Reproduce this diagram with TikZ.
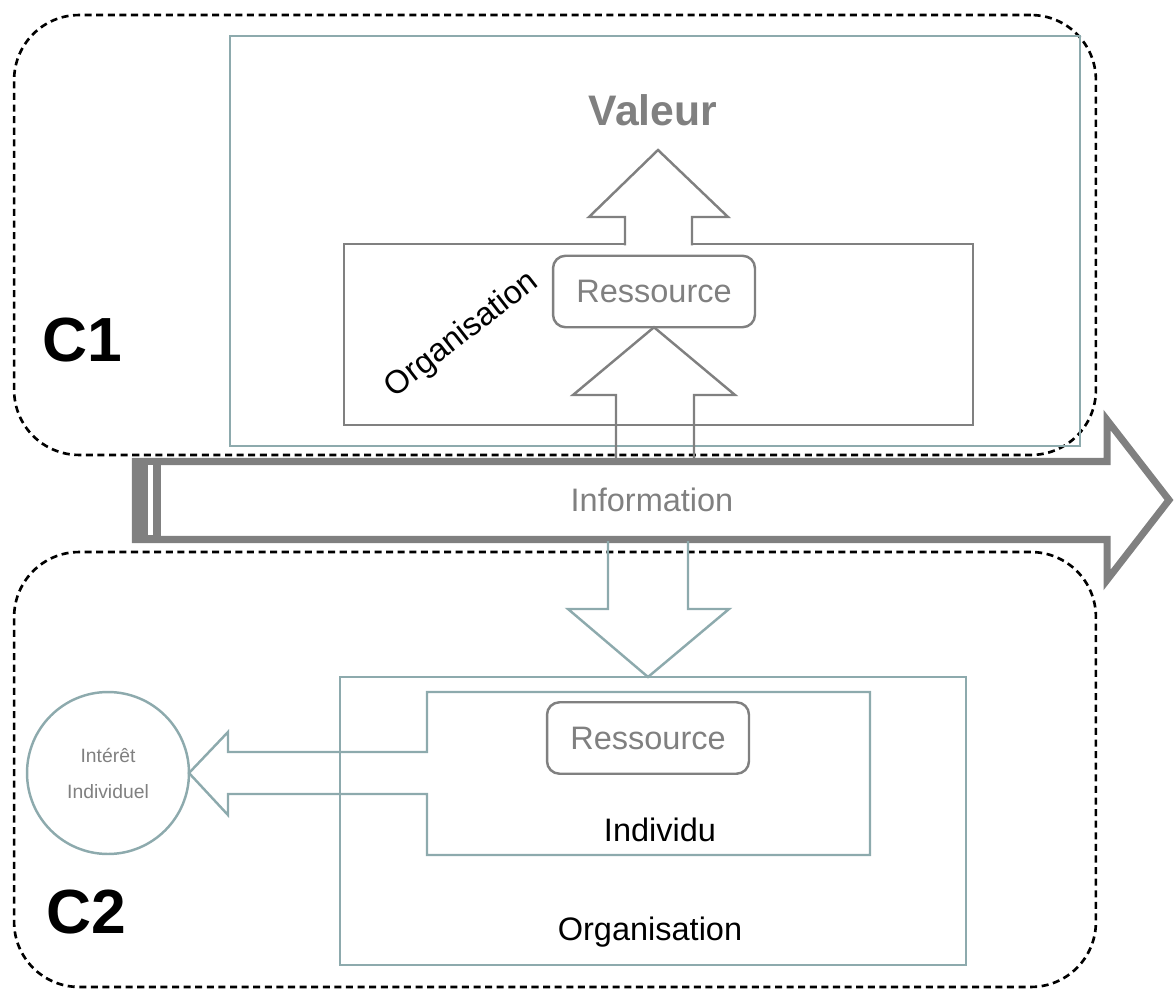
\documentclass[tikz,border=0pt]{standalone}
\usepackage{fontspec}
\setmainfont{Liberation Sans}
\usetikzlibrary{positioning}
\definecolor{tealgray}{HTML}{8DAAAD}
\definecolor{ash}{HTML}{808080}
\begin{document}
\begin{tikzpicture}[x=0.02cm,y=-0.02cm,
  every node/.style={font=\fontsize{18.5}{22}\selectfont,inner sep=0pt,outer sep=0pt},
  zone/.style={draw=black,line width=1.5pt,dash pattern=on 4pt off 2.6pt,rounded corners=1.3cm},
  tealline/.style={draw=tealgray,line width=1.4pt},
  grayline/.style={draw=ash,line width=1.4pt},
  resbox/.style={grayline,rounded corners=0.25cm,text=ash,minimum width=4.04cm,minimum height=1.43cm},
  bigtag/.style={font=\fontsize{35.5}{40}\selectfont\bfseries}]
  \useasboundingbox (0,0) rectangle (1175,989);
  \node[zone,minimum width=21.64cm,minimum height=8.8cm] (zone1) at (555,235) {};
  \node[zone,minimum width=21.64cm,minimum height=8.7cm] (zone2) at (555,769.5) {};
  \node[bigtag] (c1) at (82,340) {C1};
  \node[bigtag] (c2) at (86,912) {C2};
  \node[tealline,minimum width=17cm,minimum height=8.2cm] (frame1) at (655,241) {};
  \node[grayline,minimum width=12.58cm,minimum height=3.62cm] (org1) at (658.5,334.5) {};
  \node[rotate=38] (orglabel1) at (462,335) {Organisation};
  \node[resbox] (res1) at (654,291.5) {Ressource};
  \node[text=ash,font=\fontsize{24.3}{28}\selectfont\bfseries] (valeur) at (653,110) {Valeur};
  \draw[grayline,fill=white] (625,245.5) -- (625,217) -- (589,217) -- (658,150) -- (728,217) -- (692,217) -- (692,245.5);
  \draw[grayline] (616,461) -- (616,395) -- (573,395) -- (res1.south) -- (735,395) -- (694,395) -- (694,461);
  % information
  \draw[ash,line width=4pt] (135.5,461.5) -- (1107,461.5) -- (1107,420) -- (1169,500) -- (1107,580) -- (1107,539.5) -- (135.5,539.5) -- cycle;
  \fill[ash] (135.5,461.5) rectangle (161,539.5);
  \draw[white,line width=2.3pt] (150.5,465) -- (150.5,535);
  \node[text=ash] (info) at (652,500) {Information};
  \node[tealline,minimum width=12.52cm,minimum height=5.76cm] (org2) at (653,821) {};
  \draw[tealline] (608,541) -- (608,609) -- (568,609) -- (648,677) -- (729,609) -- (688,609) -- (688,541);
  \node[resbox] (res2) at (648,738) {Ressource};
  \node (indiv) at (660,830) {Individu};
  \node (orglabel2) at (650,932) {Organisation};
  \node[tealline,circle,minimum size=3.24cm,text=ash,align=center,font=\fontsize{11}{20.5}\selectfont] (interet) at (108,773) {Intérêt\\Individuel};
  \draw[tealline] (870,692) -- (427,692) -- (427,752) -- (228,752) -- (228,732) -- (interet.east) -- (228,815) -- (228,794) -- (427,794) -- (427,855) -- (870,855) -- cycle;
\end{tikzpicture}
\end{document}
